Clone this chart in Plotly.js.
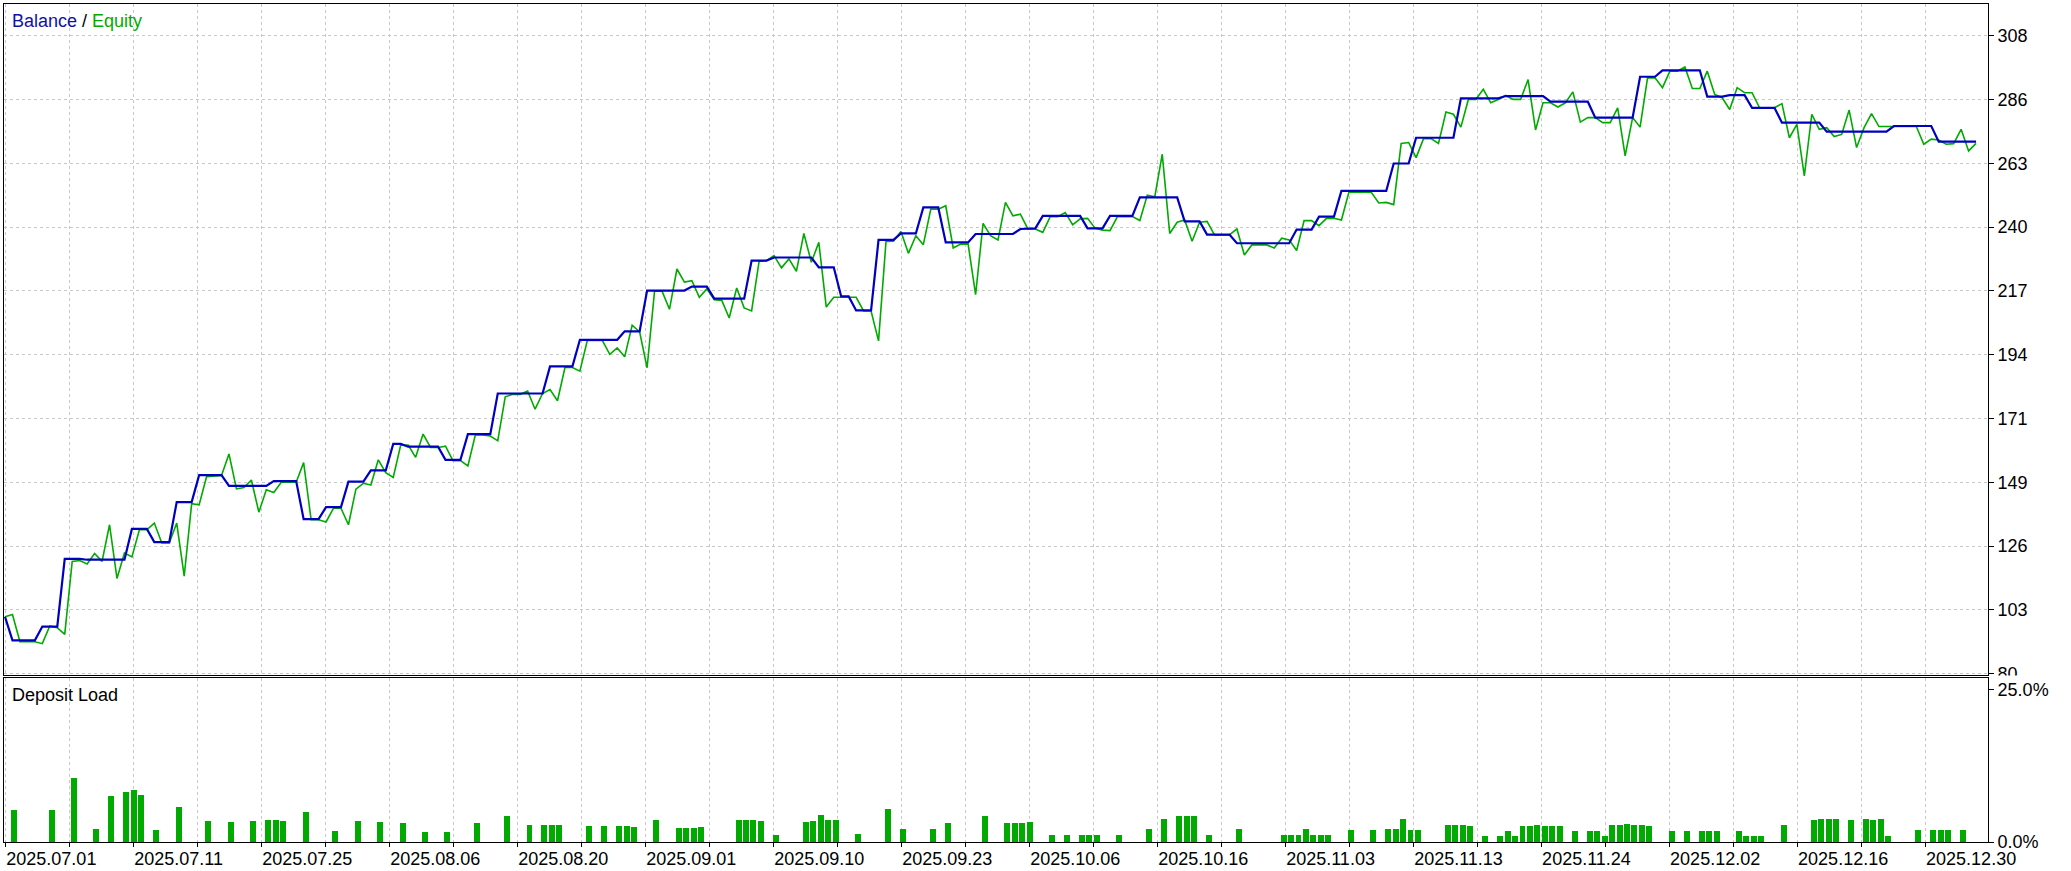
<!DOCTYPE html>
<html>
<head>
<meta charset="utf-8">
<script src="https://cdn.plot.ly/plotly-3.0.1.min.js"></script>
<style>
html,body{margin:0;padding:0;background:#fff;}
#chart{width:2071px;height:871px;}
</style>
</head>
<body>
<div id="chart"></div>
<script>
// Balance / equity per deal (index = deal number)
const equity = [
100.3,101.1,91.4,91.4,91.4,90.7,97.0,96.4,94.0,120.1,
120.4,119.2,122.9,120.1,133.2,114.0,123.1,121.7,131.4,131.4,
133.8,126.7,126.7,133.8,114.8,140.7,140.3,150.4,150.7,150.8,
158.5,146.0,146.5,149.2,137.7,145.7,144.7,148.4,148.4,148.4,
155.4,135.0,135.0,134.2,139.1,139.1,133.2,145.9,148.0,147.4,
156.4,151.8,150.1,161.7,161.7,157.3,165.6,160.8,160.8,161.3,
156.1,156.1,154.2,165.3,165.3,164.9,163.2,178.9,179.8,179.8,
181.0,174.5,180.1,181.5,177.5,189.4,189.4,188.1,199.1,199.1,
199.1,194.1,196.4,193.2,204.5,202.1,189.3,216.7,216.7,210.2,
224.6,219.9,220.4,214.5,217.5,213.6,213.4,207.1,217.8,210.7,
209.6,227.3,227.6,229.4,225.0,228.2,223.8,237.3,227.0,234.1,
211.0,214.5,214.5,214.5,214.5,209.6,209.6,198.9,234.4,234.5,
238.0,230.2,236.5,233.3,246.0,246.0,247.2,232.1,233.5,233.5,
215.4,240.9,236.5,235.0,248.4,243.6,244.2,238.9,238.9,237.7,
243.3,243.3,244.8,240.4,242.5,242.7,239.2,238.5,238.3,243.3,
243.3,243.3,241.9,251.0,250.4,265.6,237.3,241.3,242.1,234.5,
241.3,241.6,236.8,236.8,236.8,238.9,229.6,233.2,233.2,233.2,
232.1,235.6,235.0,231.2,241.9,241.9,240.1,242.7,242.7,242.1,
252.0,252.0,252.0,252.0,248.2,248.4,247.6,269.5,269.8,264.4,
271.2,271.2,269.5,280.7,279.9,275.3,285.2,285.2,288.8,284.0,
285.2,286.6,285.2,285.2,292.3,274.3,284.0,284.0,282.5,284.0,
287.9,277.1,278.7,278.7,276.9,276.9,282.2,265.0,278.7,275.3,
292.9,292.9,289.4,295.3,295.3,296.8,289.1,289.1,295.3,287.0,
285.8,281.6,289.4,287.6,287.6,282.2,282.2,282.2,283.7,271.5,
276.3,257.9,279.9,274.5,275.1,271.9,272.7,281.4,268.0,275.1,
280.1,275.5,275.5,275.5,275.5,275.5,275.5,269.2,271.0,270.7,
269.2,269.4,274.5,266.8,269.5
];
const balance = [
100.3,91.9,91.9,91.9,91.9,96.8,96.8,96.8,121.0,121.0,
121.0,120.7,120.7,120.7,120.7,120.7,120.7,131.7,131.7,131.7,
127.0,127.0,127.0,141.3,141.3,141.3,150.9,150.9,150.9,150.9,
147.1,147.1,147.1,147.1,147.1,147.1,148.8,148.8,148.8,148.8,
135.2,135.2,135.2,139.5,139.5,139.5,148.6,148.6,148.6,152.6,
152.6,152.6,162.1,162.1,161.1,161.1,161.1,161.1,161.1,156.4,
156.4,156.4,165.6,165.6,165.6,165.6,180.1,180.1,180.1,180.1,
180.1,180.1,180.1,189.8,189.8,189.8,189.8,199.3,199.3,199.3,
199.3,199.3,199.3,202.3,202.3,202.3,216.9,216.9,216.9,216.9,
216.9,216.9,218.3,218.3,218.3,214.0,214.0,214.0,214.0,214.0,
227.6,227.6,227.6,228.7,228.7,228.7,228.7,228.7,228.7,225.2,
225.2,225.2,214.8,214.8,209.8,209.8,209.8,235.0,235.0,235.0,
237.3,237.3,237.3,246.6,246.6,246.6,234.1,234.1,234.1,234.1,
237.1,237.1,237.1,237.1,237.1,237.1,238.9,238.9,239.1,243.6,
243.6,243.6,243.6,243.6,243.6,239.1,239.1,239.1,243.6,243.6,
243.6,243.6,250.2,250.2,250.2,250.2,250.2,250.2,241.6,241.6,
241.6,236.9,236.9,236.9,236.9,233.8,233.8,233.8,233.8,233.8,
233.8,233.8,233.8,238.7,238.7,238.7,243.3,243.3,243.3,252.5,
252.5,252.5,252.5,252.5,252.5,252.5,262.3,262.3,262.3,271.5,
271.5,271.5,271.5,271.5,271.5,285.6,285.6,285.6,285.6,285.6,
285.6,286.4,286.4,286.4,286.4,286.4,286.4,284.4,284.4,284.4,
284.4,284.4,284.4,278.7,278.7,278.7,278.7,278.7,278.7,293.3,
293.3,293.3,295.6,295.6,295.6,295.6,295.6,295.6,286.2,286.2,
286.2,286.7,286.7,286.7,282.2,282.2,282.2,282.2,276.9,276.9,
276.9,276.9,276.9,276.9,273.7,273.7,273.7,273.7,273.7,273.7,
273.7,273.7,273.7,275.7,275.7,275.7,275.7,275.7,275.7,270.1,
270.1,270.1,270.1,270.1,270.1
];
// Deposit load (%) at the deals where it is non-zero
const loadIdx = [
1,6,9,12,14,16,17,18,20,23,
27,30,33,35,36,37,40,44,47,50,
53,56,59,63,67,70,72,73,74,78,
80,82,83,84,87,90,91,92,93,98,
99,100,101,103,107,108,109,110,111,114,
118,120,124,126,131,134,135,136,137,140,
142,144,145,146,149,153,155,157,158,159,
161,165,171,172,173,174,175,176,177,180,
183,185,186,187,188,189,193,194,195,196,
198,200,201,202,203,204,205,206,207,208,
210,212,213,214,215,216,217,218,219,220,
223,225,227,228,229,232,233,234,235,238,
242,243,244,245,247,249,250,251,252,256,
258,259,260,262
];
const loadPct = [
5.2,5.3,10.6,2.2,7.6,8.3,8.5,7.8,2.0,5.7,
3.5,3.3,3.5,3.7,3.7,3.5,5.0,1.8,3.5,3.3,
3.2,1.7,1.7,3.2,4.3,2.8,2.8,2.8,2.8,2.7,
2.7,2.7,2.7,2.5,3.7,2.3,2.3,2.3,2.5,3.7,
3.7,3.7,3.5,1.2,3.3,3.5,4.5,3.7,3.7,1.3,
5.5,2.2,2.2,3.2,4.3,3.2,3.2,3.2,3.3,1.2,
1.2,1.2,1.2,1.2,1.2,2.2,3.8,4.3,4.3,4.3,
1.2,2.2,1.2,1.2,1.2,2.2,1.2,1.2,1.2,2.0,
2.0,2.2,2.2,3.8,2.0,2.0,2.8,2.8,2.8,2.7,
1.0,1.0,1.8,1.0,2.7,2.7,2.8,2.7,2.7,2.7,
1.8,1.8,1.8,1.0,2.8,2.8,3.0,2.8,2.8,2.7,
1.8,1.8,1.8,1.8,1.8,1.8,1.0,1.0,1.0,2.8,
3.7,3.8,3.8,3.8,3.7,3.8,3.7,3.8,1.0,2.0,
2.0,2.0,2.0,2.0
];
// Tick labels
const dateLabels = ['2025.07.01','2025.07.11','2025.07.25','2025.08.06','2025.08.20','2025.09.01','2025.09.10','2025.09.23','2025.10.06','2025.10.16','2025.11.03','2025.11.13','2025.11.24','2025.12.02','2025.12.16','2025.12.30'];
const yLabels = ['80','103','126','149','171','194','217','240','263','286','308'];
const loadLabels = ['0.0%','25.0%'];
const loadTicks = [0, 25];

const idx = equity.map((_, i) => i);

// layout helpers
const GRID_STEP = 64 / 7.467;           // one vertical grid line every 64 px
const gridVals = [], gridText = [];
for (let k = 0; k <= 30; k++) {
  gridVals.push(0.04 + k * GRID_STEP);
  gridText.push(k % 2 === 0 ? dateLabels[k / 2] : '');
}
const yMin = 80, yStep = 22.8;
const yVals = yLabels.map((_, k) => yMin + k * yStep);

const FONT = {family: 'Liberation Sans, Arial, sans-serif', size: 18, color: '#000'};
const GRID = '#c8c8c8';
const BLUE = '#0000c0', GREEN = '#00aa00';
const XR = [-0.134, 265.6];

const traces = [
  {x: idx, y: equity, type: 'scatter', mode: 'lines', line: {color: GREEN, width: 1.6}, xaxis: 'x', yaxis: 'y', hoverinfo: 'skip'},
  {x: idx, y: balance, type: 'scatter', mode: 'lines', line: {color: BLUE, width: 2.2}, xaxis: 'x', yaxis: 'y', hoverinfo: 'skip'},
  {x: loadIdx, y: loadPct, type: 'bar', width: 0.8, offset: -0.15, marker: {color: GREEN, line: {width: 0}}, xaxis: 'x2', yaxis: 'y2', hoverinfo: 'skip'}
];

const layout = {
  width: 2071, height: 871,
  margin: {l: 4, r: 83, t: 4, b: 29, pad: 0},
  paper_bgcolor: '#fff', plot_bgcolor: '#fff',
  showlegend: false,
  font: FONT,
  xaxis: {
    domain: [0, 1], anchor: 'y', range: XR, tickmode: 'array', tickvals: gridVals, ticktext: gridVals.map(() => ''),
    showgrid: true, gridcolor: GRID, griddash: '3px,3px', gridwidth: 1, zeroline: false,
    showline: true, mirror: true, linecolor: '#000', linewidth: 1, ticks: ''
  },
  yaxis: {
    domain: [0.19928, 1], anchor: 'x', side: 'right', range: [79.5, 319.3],
    tickmode: 'array', tickvals: yVals, ticktext: yLabels,
    showgrid: true, gridcolor: GRID, griddash: '3px,3px', gridwidth: 1, zeroline: false,
    showline: true, mirror: true, linecolor: '#000', linewidth: 1,
    ticks: 'outside', ticklen: 5, tickcolor: '#000', tickfont: FONT
  },
  xaxis2: {
    domain: [0, 1], anchor: 'y2', range: XR, tickmode: 'array', tickvals: gridVals, ticktext: gridText,
    ticklabelposition: 'outside right',
    showgrid: true, gridcolor: GRID, griddash: '3px,3px', gridwidth: 1, zeroline: false,
    showline: true, mirror: true, linecolor: '#000', linewidth: 1,
    ticks: 'outside', ticklen: 4, tickcolor: '#000', tickfont: FONT
  },
  yaxis2: {
    domain: [0, 0.1957], anchor: 'x2', side: 'right', range: [0, 26.97],
    tickmode: 'array', tickvals: loadTicks, ticktext: loadLabels,
    showgrid: false, zeroline: false,
    showline: true, mirror: true, linecolor: '#000', linewidth: 1,
    ticks: 'outside', ticklen: 5, tickcolor: '#000', tickfont: FONT
  },
  bargap: 0,
  annotations: [
    {xref: 'paper', yref: 'paper', x: 0.003, y: 0.9797, xanchor: 'left', yanchor: 'middle', showarrow: false,
     text: '<span style="color:#1010a8">Balance</span> / <span style="color:#00aa00">Equity</span>', font: FONT},
    {xref: 'paper', yref: 'paper', x: 0.003, y: 0.1754, xanchor: 'left', yanchor: 'middle', showarrow: false,
     text: 'Deposit Load', font: FONT}
  ],
  shapes: [
    {type: 'rect', xref: 'paper', yref: 'paper', x0: 1.0008, x1: 1.05, y0: 0.1927, y1: 0.1988, fillcolor: '#fff', line: {width: 0}, layer: 'above'}
  ]
};

Plotly.newPlot('chart', traces, layout, {staticPlot: true, displayModeBar: false});
</script>
</body>
</html>
